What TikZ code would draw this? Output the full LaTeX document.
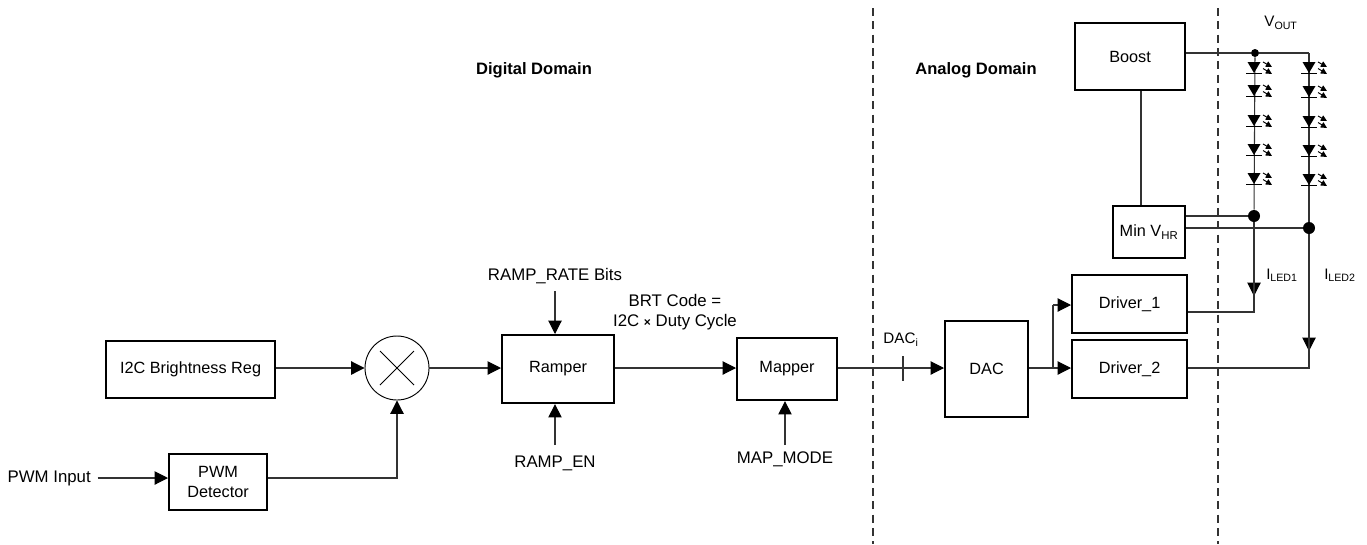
\documentclass[tikz,border=0pt]{standalone}
\usepackage{fontspec}
\setmainfont{Liberation Sans}
\usetikzlibrary{arrows.meta}
\tikzset{
  x=0.75pt,y=-0.75pt,
  blockbox/.style={draw=black,line width=1.6pt,fill=white,font=\fontsize{12.2}{15}\selectfont,inner sep=0pt},
  lbl/.style={font=\fontsize{12.6}{15}\selectfont,inner sep=0pt,align=center},
  sublbl/.style={font=\fontsize{11.4}{14}\selectfont,inner sep=0pt},
  wire/.style={draw=black!80,line width=0.8pt},
  arrow/.style={wire,-{Triangle[length=10pt,width=10pt,color=black]}},
  divider/.style={draw=black!80,line width=0.8pt,dash pattern=on 6pt off 4pt},
  dotjoin/.style={circle,fill=black,inner sep=0pt,minimum size=#1},
  ledtri/.style={fill=black},
}
\newcommand{\placebox}[6]{% name, x1,y1,x2,y2,text
  \node[blockbox,minimum width=#4*0.75pt-#2*0.75pt,minimum height=#5*0.75pt-#3*0.75pt,anchor=north west,align=center] (#1) at (#2,#3) {#6};}
\newcommand{\ledat}[2]{% centre x, top y of triangle
  \fill[ledtri] (#1-6.5,#2) -- (#1+6.5,#2) -- (#1,#2+11) -- cycle;
  \draw[line width=0.9pt] (#1-8,#2+11.3) -- (#1+8,#2+11.3);
  \draw[line width=0.7pt,-{Triangle[length=4.6pt,width=4.4pt]}] (#1+9,#2+0) -- (#1+18,#2+5);
  \draw[line width=0.7pt,-{Triangle[length=4.6pt,width=4.4pt]}] (#1+9,#2+6.5) -- (#1+18,#2+12);}
\begin{document}
\begin{tikzpicture}
\useasboundingbox (0,0) rectangle (1367,544);
\draw[divider] (873,8) -- (873,544);
\draw[divider] (1218,8) -- (1218,544);

\placebox{i2c}{105}{340}{274}{397}{I2C Brightness Reg}
\placebox{pwm}{168}{453}{266}{509}{PWM\\[0pt]Detector}
\placebox{ramper}{501}{334}{613}{402}{Ramper}
\placebox{mapper}{736}{337}{836}{399}{Mapper}
\placebox{dac}{944}{320}{1027}{416}{DAC}
\placebox{drv1}{1071}{274}{1186}{332}{Driver\_1}
\placebox{drv2}{1071}{339}{1186}{397}{Driver\_2}
\placebox{minv}{1112}{205}{1184}{257}{Min V\textsubscript{HR}}
\placebox{boost}{1074}{22}{1184}{89}{Boost}

\node[circle,draw=black,line width=0.7pt,minimum size=48pt,inner sep=0pt] (mult) at (397,368) {};
\draw[line width=0.6pt] (mult.center) +(-17,-17) -- +(17,17) (mult.center) +(-17,17) -- +(17,-17);

\node[lbl,font=\fontsize{12.4}{15}\selectfont\bfseries] (dig) at (534,70) {Digital Domain};
\node[lbl,font=\fontsize{12.4}{15}\selectfont\bfseries] (ana) at (976,70) {Analog Domain};
\node[lbl,anchor=east] (pwmin) at (91,478) {PWM Input};
\node[lbl] (rate) at (555,276) {RAMP\_RATE Bits};
\node[lbl] (en) at (555,463) {RAMP\_EN};
\node[lbl] (mode) at (785,459) {MAP\_MODE};
\node[lbl] (brt) at (675,312) {BRT Code =\\[0pt]I2C {\fontsize{9}{10}\selectfont\textbf{×}} Duty Cycle};
\node[sublbl] (daci) at (901,340) {DAC\textsubscript{i}};
\node[sublbl] (vout) at (1281,23) {V\textsubscript{OUT}};
\node[sublbl] (iled1) at (1282,275) {I\textsubscript{LED1}};
\node[sublbl] (iled2) at (1340,275) {I\textsubscript{LED2}};

\draw[arrow] (i2c.east |- 0,368) -- (mult.west);
\draw[arrow] (mult.east) -- (ramper.west |- mult.east);
\draw[arrow] ([xshift=5pt]pwmin.east) -- (pwm.west |- pwmin.east);
\draw[arrow] (pwm.east |- 0,478) -| (mult.south);
\coordinate (ratetop) at (555,291);
\coordinate (enbot) at (555,445);
\coordinate (modebot) at (785,445);
\draw[arrow] (ratetop) -- (ramper.north -| ratetop);
\draw[arrow] (enbot) -- (ramper.south -| enbot);
\draw[arrow] (modebot) -- (mapper.south -| modebot);
\draw[arrow] (ramper.east |- 0,368) -- (mapper.west |- 0,368);
\draw[arrow] (mapper.east |- 0,368) -- (dac.west |- 0,368);
\coordinate (tick1) at (903,356);
\coordinate (tick2) at (903,381);
\draw[wire] (tick1) -- (tick2);

\coordinate (split) at (1053,368);
\draw[arrow] (dac.east |- split) -- (drv2.west |- split);
\draw[wire] (split) -- (1053,305);
\coordinate (splittop) at (1053,305);
\draw[arrow] (splittop) -- (drv1.west |- splittop);

% output rails
\node[dotjoin=6pt] (railtop) at (1255,53) {};
\coordinate (r2top) at (1309,53);
\draw[wire] (boost.east |- railtop) -- (railtop) -- (r2top);
\draw[wire] (boost.south -| 1141,0) -- (minv.north -| 1141,0);
\node[dotjoin=9pt] (d1) at (1254,216) {};
\node[dotjoin=9pt] (d2) at (1309,228) {};
\draw[wire] (railtop) -- (d1);
\draw[wire] (r2top) -- (d2);
\draw[wire] (minv.east |- d1) -- (d1);
\draw[wire] (minv.east |- d2) -- (d2);
\coordinate (c1) at (1254,312);
\coordinate (c2) at (1309,368);
\draw[arrow] (d1) -- (c1 |- 0,296);
\draw[arrow] (d2) -- (c2 |- 0,351);
\draw[wire] (d1) -- (c1) -- (drv1.east |- c1);
\draw[wire] (d2) -- (c2) -- (drv2.east |- c2);

\foreach \yy in {62,85,115,144,173}{\ledat{1254}{\yy}}
\foreach \yy in {62,86,116,145,174}{\ledat{1309}{\yy}}
\end{tikzpicture}
\end{document}
